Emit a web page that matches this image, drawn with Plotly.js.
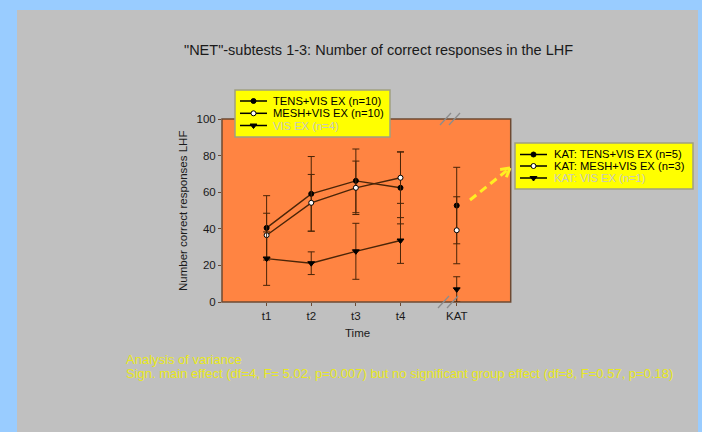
<!DOCTYPE html>
<html><head><meta charset="utf-8">
<script src="https://cdn.plot.ly/plotly-3.0.1.min.js"></script>
<style>html,body{margin:0;padding:0;background:#99ccff;}#chart{width:702px;height:432px;}</style>
</head><body><div id="chart"></div>
<script>
// ---- data ----
const categories = ['t1','t2','t3','t4','KAT'];
const timePos = [1,2,3,4];
const katPos = [5.26];
const seriesNames = ['TENS+VIS EX (n=10)','MESH+VIS EX (n=10)','VIS EX (n=4)'];
const katNames = ['KAT: TENS+VIS EX (n=5)','KAT: MESH+VIS EX (n=3)','KAT: VIS EX (n=1)'];
const tensMean = [40.5,59.1,66.2,62.4];
const tensSD   = [17.6,20.4,17.4,19.7];
const meshMean = [36.5,54.2,62.4,67.9];
const meshSD   = [12.0,15.5,14.6,14.0];
const visMean  = [23.7,21.2,27.7,33.6];
const visSD    = [14.6,6.2,15.3,12.5];
const katMean  = [52.7,39.2,6.9];
const katSD    = [20.9,18.3,6.9];
const yTicks   = [0,20,40,60,80,100];
const titleText = '"NET"-subtests 1-3: Number of correct responses in the LHF';
const yTitle = 'Number correct responses LHF';
const xTitle = 'Time';
const noteLines = ['Analysis of variance',
  'Sign. main effect (df=4, F= 5.02, p=0.007) but no significant group effect (df=8, F=0.57, p=0.18)'];

// ---- styles / layout helpers ----
const W = 702, H = 432;
const px = x => x / W, py = y => 1 - y / H;
const FONT = 'Liberation Sans, Arial, sans-serif';
const lineCol = '#4a2508', errCol = '#4a2508', frameCol = '#6e4a32';
const symbols = ['circle','circle','triangle-down'];
const fills = ['#000000','#ffffff','#000000'];
const legendTextCol = ['#000000','#000000','#c8c8c0'];
const means = [tensMean, meshMean, visMean];
const sds = [tensSD, meshSD, visSD];

const traces = [];
for (let i = 0; i < 3; i++) {
  traces.push({
    type: 'scatter', mode: 'lines+markers', x: timePos, y: means[i],
    name: seriesNames[i], showlegend: false,
    line: {color: lineCol, width: 1.4},
    marker: {symbol: symbols[i], size: i === 2 ? 6 : 5, color: fills[i], line: {color: '#000', width: 1}},
    error_y: {type: 'data', array: sds[i], visible: true, color: errCol, thickness: 1, width: 3.5},
    xaxis: 'x', yaxis: 'y', cliponaxis: false
  });
}
for (let i = 0; i < 3; i++) {
  traces.push({
    type: 'scatter', mode: 'markers', x: katPos, y: [katMean[i]],
    name: katNames[i], showlegend: false,
    marker: {symbol: symbols[i], size: i === 2 ? 6 : 5, color: fills[i], line: {color: '#000', width: 1}},
    error_y: {type: 'data', array: [katSD[i]], visible: true, color: errCol, thickness: 1, width: 3.5},
    xaxis: 'x', yaxis: 'y', cliponaxis: false
  });
}

// legend samples (decoration) on a pixel-space overlay axis
const legL = {x0: 240, x1: 267, tx: 271, ys: [101, 113.3, 125.5], box: [235, 90, 390, 137]};
const legR = {x0: 520, x1: 547, tx: 552, ys: [154.5, 166, 178], box: [515, 143, 693, 189]};
[legL, legR].forEach(L => {
  for (let i = 0; i < 3; i++) {
    traces.push({type: 'scatter', mode: 'lines', x: [L.x0, L.x1], y: [L.ys[i], L.ys[i]],
      line: {color: '#000', width: 1.5}, showlegend: false, xaxis: 'x2', yaxis: 'y2', hoverinfo: 'skip'});
    traces.push({type: 'scatter', mode: 'markers', x: [(L.x0 + L.x1) / 2], y: [L.ys[i]],
      marker: {symbol: symbols[i], size: i === 2 ? 6 : 5, color: fills[i], line: {color: '#000', width: 1}},
      showlegend: false, xaxis: 'x2', yaxis: 'y2', hoverinfo: 'skip'});
  }
});

const annotations = [];
const ann = (text, x, y, size, color, opts) => annotations.push(Object.assign({
  text, x: px(x), y: py(y), xref: 'paper', yref: 'paper', showarrow: false,
  font: {family: FONT, size, color}, xanchor: 'left', yanchor: 'middle'}, opts || {}));
ann(titleText, 378, 50, 14.5, '#1a1a1a', {xanchor: 'center'});
ann(yTitle, 183, 211, 11.5, '#1a1a1a', {xanchor: 'center', textangle: -90});
ann(xTitle, 357, 333, 11.5, '#1a1a1a', {xanchor: 'center'});
for (let i = 0; i < 3; i++) {
  ann(seriesNames[i], legL.tx, legL.ys[i], 11.2, legendTextCol[i]);
  ann(katNames[i], legR.tx, legR.ys[i], 11.2, legendTextCol[i]);
}
ann(noteLines[0], 124, 359, 13, '#e8e820');
ann(noteLines[1], 124, 373, 13, '#e8e820');

const rect = (b, fill, lc, lw, layer) => ({type: 'rect', xref: 'paper', yref: 'paper',
  x0: px(b[0]), y0: py(b[3]), x1: px(b[2]), y1: py(b[1]),
  fillcolor: fill, line: {color: lc, width: lw}, layer});
const seg = (x0, y0, x1, y1, color, width, dash) => ({type: 'line', xref: 'paper', yref: 'paper',
  x0: px(x0), y0: py(y0), x1: px(x1), y1: py(y1), line: {color, width, dash: dash || 'solid'}, layer: 'above'});

const plotBox = [222, 119, 510.7, 302];
const shapes = [
  rect([17, 10, 698, 432], '#c0c0c0', 'rgba(0,0,0,0)', 0, 'below'),
  rect(plotBox, '#ff8442', frameCol, 1.5, 'below'),
  rect(legL.box, '#ffff00', '#a0a080', 1.5, 'below'),
  rect(legR.box, '#ffff00', '#a0a080', 1.5, 'below'),
  // axis break marks
  seg(440, 125, 451, 113, '#8c8c8c', 1.3), seg(449, 125, 460, 113, '#8c8c8c', 1.3),
  seg(438, 308, 449, 296, '#8c8c8c', 1.3), seg(447, 308, 458, 296, '#8c8c8c', 1.3)
];
// dashed yellow arrow
const ax0 = 470, ay0 = 200, ax1 = 510, ay1 = 168;
shapes.push(seg(ax0, ay0, ax1 - 2, ay1 + 1.6, '#ffee22', 3, '8px,5px'));
{
  const dx = ax1 - ax0, dy = ay1 - ay0, L = Math.hypot(dx, dy);
  const bx = -dx / L, by = -dy / L, a = Math.PI / 6, len = 10;
  [a, -a].forEach(t => {
    const rx = bx * Math.cos(t) - by * Math.sin(t), ry = bx * Math.sin(t) + by * Math.cos(t);
    shapes.push(seg(ax1, ay1, ax1 + rx * len, ay1 + ry * len, '#ffee22', 3));
  });
}

const layout = {
  width: W, height: H, margin: {l: 0, r: 0, t: 0, b: 0},
  paper_bgcolor: '#99ccff', plot_bgcolor: 'rgba(0,0,0,0)',
  showlegend: false, font: {family: FONT, color: '#1a1a1a'},
  xaxis: {domain: [px(plotBox[0]), px(plotBox[2])], range: [0, 6.47],
    tickvals: timePos.concat(katPos), ticktext: categories,
    ticks: 'outside', ticklen: 3, tickcolor: frameCol, showline: false, showgrid: false, zeroline: false,
    tickfont: {size: 11.5, color: '#1a1a1a'}, fixedrange: true},
  yaxis: {domain: [py(plotBox[3]), py(plotBox[1])], range: [0, 100], tickvals: yTicks,
    ticks: 'outside', ticklen: 3, tickcolor: frameCol, showline: false, showgrid: false, zeroline: false,
    tickfont: {size: 11.5, color: '#1a1a1a'}, fixedrange: true},
  xaxis2: {domain: [0, 1], range: [0, W], visible: false, anchor: 'y2', fixedrange: true},
  yaxis2: {domain: [0, 1], range: [H, 0], visible: false, anchor: 'x2', fixedrange: true},
  shapes, annotations
};
Plotly.newPlot('chart', traces, layout, {staticPlot: true, displayModeBar: false});
</script></body></html>
